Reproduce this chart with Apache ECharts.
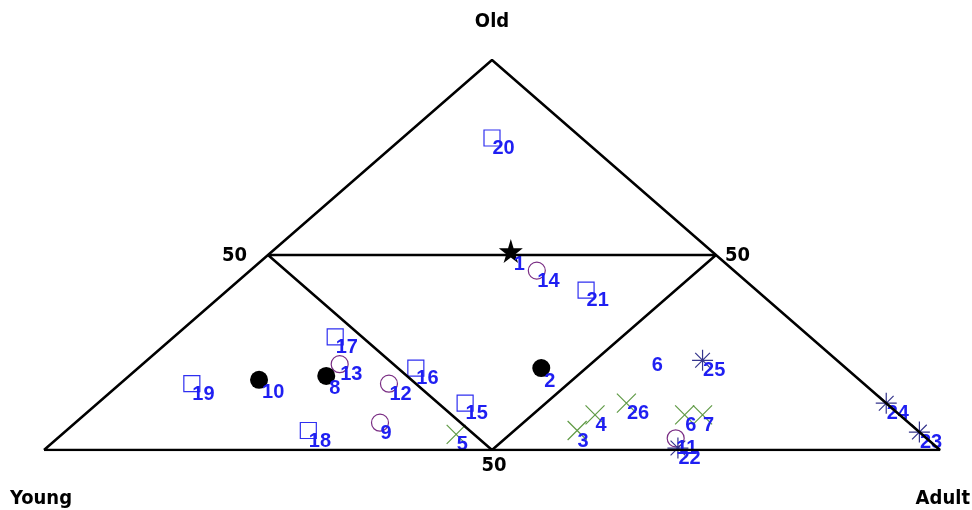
<!DOCTYPE html>
<html>
<head>
<meta charset="utf-8">
<script src="https://cdn.jsdelivr.net/npm/echarts@6/dist/echarts.min.js"></script>
<style>
  html, body { margin: 0; padding: 0; background: #fff; }
  #chart { width: 972px; height: 510px; }
</style>
</head>
<body>
<div id="chart"></div>
<script>
// 每个点: [编号, Young%, Adult%, Old%]
const squares = [['20', 10, 10, 80], ['21', 19, 40, 41], ['17', 53, 18, 29], ['19', 75, 8, 17],
  ['16', 48, 31, 21], ['15', 47, 41, 12], ['18', 68, 27, 5]];
const circles = [['14', 22, 32, 46], ['13', 56, 22, 22], ['12', 53, 30, 17], ['9', 59, 34, 7], ['11', 28, 69, 3]];
const dots = [['2', 34, 45, 21], ['8', 59, 22, 19], ['10', 67, 15, 18]];
const crosses = [['26', 29, 59, 12], ['4', 34, 57, 9], ['3', 38, 57, 5], ['6', 24, 67, 9], ['7', 22, 69, 9], ['5', 52, 44, 4]];
const asterisks = [['25', 15, 62, 23], ['22', 29, 70.5, 0.5], ['24', 0, 88, 12], ['23', 0, 95.4, 4.6]];
const stars = [['1', 22.4, 26.6, 51]];
const unmarked = [['6', 20, 55, 25]];

// 三角形边框
const outerTriangle = [[100, 0, 0], [0, 100, 0], [0, 0, 100], [100, 0, 0]];
const innerTriangle = [[50, 0, 50], [0, 50, 50], [50, 50, 0], [50, 0, 50]];

// 三元坐标 -> 平面坐标
function toXY(y, a, o) {
  return [a + o / 2, o];
}

const labelFont = { color: '#1f1ff2', fontSize: 20, fontWeight: 'bold', fontFamily: 'Liberation Sans, Arial, sans-serif' };
const axisFont = { fill: '#000', fontSize: 20, fontWeight: 'bold', fontFamily: "'DejaVu Sans Condensed', 'DejaVu Sans', sans-serif" };

function pointSeries(list, symbol, size, itemStyle) {
  return {
    type: 'scatter',
    symbol: symbol,
    symbolSize: size,
    itemStyle: Object.assign({ opacity: 1 }, itemStyle),
    label: Object.assign({
      show: true,
      position: [size / 2 + 3, size / 2 + 3],
      formatter: p => p.data.name
    }, labelFont),
    emphasis: { disabled: true },
    data: list.map(d => ({ name: d[0], value: toXY(d[1], d[2], d[3]) }))
  };
}

function edgeSeries(list) {
  return {
    type: 'line',
    symbol: 'none',
    lineStyle: { color: '#000', width: 2.5, opacity: 1 },
    silent: true,
    data: list.map(d => toXY(d[0], d[1], d[2]))
  };
}

const crossPath = 'path://M0,0L10,10M10,0L0,10';
const asteriskPath = 'path://M0,5L10,5M5,0L5,10M1.5,1.5L8.5,8.5M8.5,1.5L1.5,8.5';
const starPath = 'path://M50,0L61,35L98,35L68,57L79,91L50,70L21,91L32,57L2,35L39,35Z';

const chart = echarts.init(document.getElementById('chart'));
chart.setOption({
  backgroundColor: '#fff',
  animation: false,
  grid: { left: 44, right: 32, top: 60, bottom: 60 },
  xAxis: { type: 'value', min: 0, max: 100, show: false },
  yAxis: { type: 'value', min: 0, max: 100, show: false },
  graphic: [
    { type: 'text', x: 492, y: 22, style: Object.assign({ text: 'Old', align: 'center', verticalAlign: 'middle' }, axisFont) },
    { type: 'text', x: 10, y: 499, style: Object.assign({ text: 'Young', align: 'left', verticalAlign: 'middle' }, axisFont) },
    { type: 'text', x: 970, y: 499, style: Object.assign({ text: 'Adult', align: 'right', verticalAlign: 'middle' }, axisFont) },
    { type: 'text', x: 247, y: 256, style: Object.assign({ text: '50', align: 'right', verticalAlign: 'middle' }, axisFont) },
    { type: 'text', x: 725, y: 256, style: Object.assign({ text: '50', align: 'left', verticalAlign: 'middle' }, axisFont) },
    { type: 'text', x: 494, y: 466, style: Object.assign({ text: '50', align: 'center', verticalAlign: 'middle' }, axisFont) }
  ],
  series: [
    edgeSeries(outerTriangle),
    edgeSeries(innerTriangle),
    pointSeries(squares, 'rect', 16, { color: 'none', borderColor: '#2f2ff0', borderWidth: 1.2 }),
    pointSeries(circles, 'circle', 17, { color: 'none', borderColor: '#7a2e84', borderWidth: 1.2 }),
    pointSeries(dots, 'circle', 18, { color: '#000' }),
    pointSeries(crosses, crossPath, 19, { color: 'none', borderColor: '#5f9a45', borderWidth: 1.2 }),
    pointSeries(asterisks, asteriskPath, 21, { color: 'none', borderColor: '#34348c', borderWidth: 1.2 }),
    pointSeries(stars, starPath, 24, { color: '#000' }),
    pointSeries(unmarked, 'circle', 1, { color: 'transparent' })
  ]
});
</script>
</body>
</html>
